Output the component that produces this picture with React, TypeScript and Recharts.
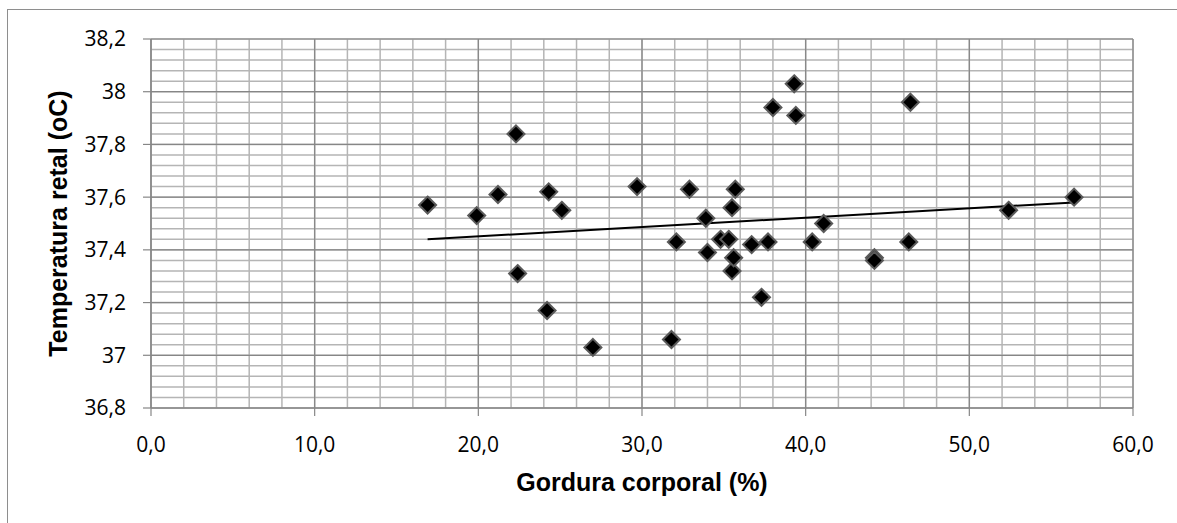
import { ScatterChart, Scatter, XAxis, YAxis, CartesianGrid, Label } from 'recharts';

// gordura corporal (%) e temperatura retal (oC)
const gordura = [
  16.9, 19.9, 21.2, 22.3, 22.4, 24.2, 24.3, 25.1, 27.0, 29.7, 31.8, 32.1,
  32.9, 33.9, 34.0, 34.8, 35.3, 35.5, 35.5, 35.6, 35.7, 36.7, 37.3, 37.7,
  38.0, 39.3, 39.4, 40.4, 41.1, 44.2, 44.2, 46.3, 46.4, 52.4, 56.4,
];
const temperatura = [
  37.57, 37.53, 37.61, 37.84, 37.31, 37.17, 37.62, 37.55, 37.03, 37.64, 37.06, 37.43,
  37.63, 37.52, 37.39, 37.44, 37.44, 37.56, 37.32, 37.37, 37.63, 37.42, 37.22, 37.43,
  37.94, 38.03, 37.91, 37.43, 37.50, 37.37, 37.36, 37.43, 37.96, 37.55, 37.60,
];

// linha de tendência (extremos)
const trendX = [16.9, 56.4];
const trendY = [37.44, 37.58];

const xTicks = [0, 10, 20, 30, 40, 50, 60];
const yTicks = [36.8, 37, 37.2, 37.4, 37.6, 37.8, 38, 38.2];
const xMinorTicks = [0, 2, 4, 6, 8, 10, 12, 14, 16, 18, 20, 22, 24, 26, 28, 30, 32, 34, 36, 38, 40, 42, 44, 46, 48, 50, 52, 54, 56, 58, 60];
const yMinorTicks = [
  36.8, 36.84, 36.88, 36.92, 36.96, 37, 37.04, 37.08, 37.12, 37.16, 37.2, 37.24, 37.28, 37.32, 37.36,
  37.4, 37.44, 37.48, 37.52, 37.56, 37.6, 37.64, 37.68, 37.72, 37.76, 37.8, 37.84, 37.88, 37.92, 37.96,
  38, 38.04, 38.08, 38.12, 38.16, 38.2,
];

const points = gordura.map((x, i) => ({ x, y: temperatura[i] }));
const trend = trendX.map((x, i) => ({ x, y: trendY[i] }));

const tickFont = { fontFamily: 'Open Sans', fontSize: 21, fill: '#000' };
const titleFont = { fontFamily: 'Liberation Sans', fontSize: 25, fontWeight: 'bold', fill: '#000' };

function Diamond(props: any) {
  const { cx, cy } = props;
  if (cx == null || cy == null) return null;
  const r = 8.5;
  return (
    <polygon
      points={`${cx},${cy - r} ${cx + r},${cy} ${cx},${cy + r} ${cx - r},${cy}`}
      fill="#000"
      stroke="#5a5a5a"
      strokeWidth={2}
    />
  );
}

export default function App() {
  return (
    <div style={{ position: 'absolute', left: 0, top: 0, width: 1177, height: 523, overflow: 'hidden', background: '#fff' }}>
      <div
        style={{
          position: 'absolute',
          left: 7,
          top: 9,
          width: 1200,
          height: 600,
          borderLeft: '1px solid #8e8e8e',
          borderTop: '1px solid #8e8e8e',
        }}
      />
      <div style={{ position: 'absolute', left: 0, top: 0 }}>
        <ScatterChart width={1177} height={523} margin={{ top: 39, right: 44, left: 51, bottom: 0 }}>
          <CartesianGrid verticalValues={xMinorTicks} horizontalValues={yMinorTicks} stroke="#b5b5b5" strokeWidth={1.5} />
          <CartesianGrid stroke="#868686" strokeWidth={1.2} />
          <XAxis
            type="number"
            dataKey="x"
            domain={[0, 60]}
            ticks={xTicks}
            interval={0}
            height={115}
            tickSize={8}
            tickMargin={21}
            tick={tickFont}
            tickFormatter={(v: number) => v.toFixed(1).replace('.', ',')}
            axisLine={{ stroke: '#868686', strokeWidth: 1.2 }}
            tickLine={{ stroke: '#868686', strokeWidth: 1.2 }}
          >
            <Label value="Gordura corporal (%)" position="center" dy={17} style={titleFont} />
          </XAxis>
          <YAxis
            type="number"
            dataKey="y"
            domain={[36.8, 38.2]}
            ticks={yTicks}
            interval={0}
            width={100}
            tickSize={8}
            tickMargin={17}
            tick={tickFont}
            tickFormatter={(v: number) => String(v).replace('.', ',')}
            axisLine={{ stroke: '#868686', strokeWidth: 1.2 }}
            tickLine={{ stroke: '#868686', strokeWidth: 1.2 }}
          >
            <Label value="Temperatura retal (oC)" position="center" angle={-90} dx={-43} style={titleFont} />
          </YAxis>
          <Scatter data={trend} line={{ stroke: '#000', strokeWidth: 2 }} shape={() => null} isAnimationActive={false} />
          <Scatter data={points} shape={Diamond} isAnimationActive={false} />
        </ScatterChart>
      </div>
    </div>
  );
}
